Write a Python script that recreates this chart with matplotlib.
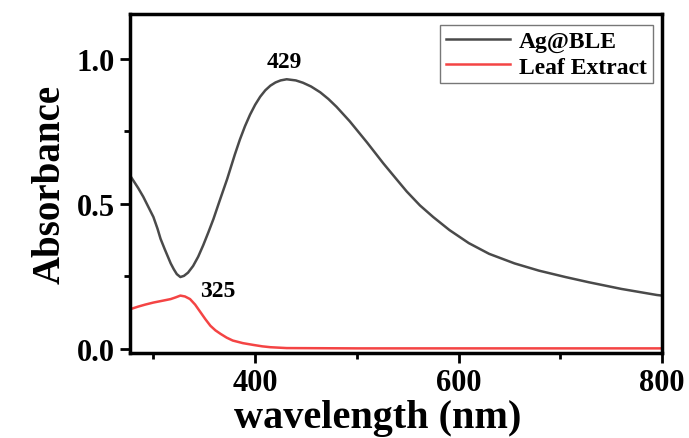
import matplotlib
matplotlib.use('Agg')
import matplotlib.pyplot as plt
from matplotlib.ticker import MultipleLocator

plt.rcParams['font.family'] = ['Liberation Serif', 'DejaVu Serif']
plt.rcParams['font.weight'] = 'bold'

# Ag@BLE (black curve)
ag_wl = [278, 285, 290, 295, 300, 304, 307, 311, 314, 317, 320, 323, 326.5, 330, 334,
         339, 344, 349, 354, 359, 365, 372.5, 380, 385, 390, 395, 400, 405, 410, 415,
         420, 425, 431, 440, 447, 455, 464, 472, 480, 493, 510, 526, 539, 549, 562,
         575, 591, 610, 630, 655, 679, 705, 728, 760, 795, 800]
ag_abs = [0.593, 0.555, 0.525, 0.490, 0.455, 0.415, 0.380, 0.345, 0.320, 0.295, 0.275,
          0.258, 0.248, 0.252, 0.263, 0.286, 0.318, 0.358, 0.402, 0.448, 0.510, 0.586,
          0.670, 0.722, 0.768, 0.808, 0.842, 0.870, 0.892, 0.908, 0.919, 0.926, 0.930,
          0.926, 0.918, 0.905, 0.885, 0.862, 0.835, 0.785, 0.712, 0.640, 0.585, 0.543,
          0.495, 0.455, 0.410, 0.365, 0.328, 0.295, 0.270, 0.248, 0.230, 0.207, 0.186,
          0.184]

# Leaf extract (red curve)
leaf_wl = [278, 285, 292, 300, 310, 317, 322, 326.5, 331, 336, 341, 346, 351, 356, 361,
           366, 372, 378, 388, 398, 407, 415, 431, 500, 600, 700, 800]
leaf_abs = [0.138, 0.146, 0.153, 0.160, 0.167, 0.172, 0.178, 0.184, 0.181, 0.172, 0.153,
            0.128, 0.103, 0.080, 0.064, 0.052, 0.039, 0.029, 0.020, 0.014, 0.009, 0.006,
            0.003, 0.002, 0.002, 0.002, 0.002]

peak_labels = ['429', '325']
peak_pos = [(429, 0.99), (363, 0.203)]

fig = plt.figure(figsize=(6.89, 4.39), dpi=100)
ax = fig.add_axes([0.1887, 0.1936, 0.7722, 0.7722])

ax.plot(ag_wl, ag_abs, color='#4a4a4a', lw=1.8, label='Ag@BLE')
ax.plot(leaf_wl, leaf_abs, color='#f44444', lw=1.8, label='Leaf Extract')

for txt, (x, y) in zip(peak_labels, peak_pos):
    ax.text(x, y, txt, fontsize=17, fontweight='bold', ha='center', va='center')

ax.set_xlim(277, 800)
ax.set_ylim(-0.014, 1.155)
ax.xaxis.set_major_locator(MultipleLocator(200))
ax.xaxis.set_minor_locator(MultipleLocator(100))
ax.yaxis.set_major_locator(MultipleLocator(0.5))
ax.yaxis.set_minor_locator(MultipleLocator(0.25))

for s in ax.spines.values():
    s.set_linewidth(2.5)
ax.tick_params(which='major', direction='out', length=7, width=2, labelsize=22, pad=4)
ax.tick_params(which='minor', direction='out', length=4, width=2)

ax.set_xlabel('wavelength (nm)', fontsize=29, fontweight='bold', labelpad=0)
ax.xaxis.set_label_coords(0.466, -0.135)
ax.set_ylabel('Absorbance', fontsize=28, fontweight='bold', labelpad=6)

leg = ax.legend(loc='upper right', bbox_to_anchor=(0.983, 0.968), borderaxespad=0,
                fancybox=False, edgecolor='#555555', fontsize=17, handlelength=2.7,
                labelspacing=0.15, borderpad=0.25, handletextpad=0.4)
leg.get_frame().set_linewidth(1.0)

fig.savefig('out.png', dpi=100)
